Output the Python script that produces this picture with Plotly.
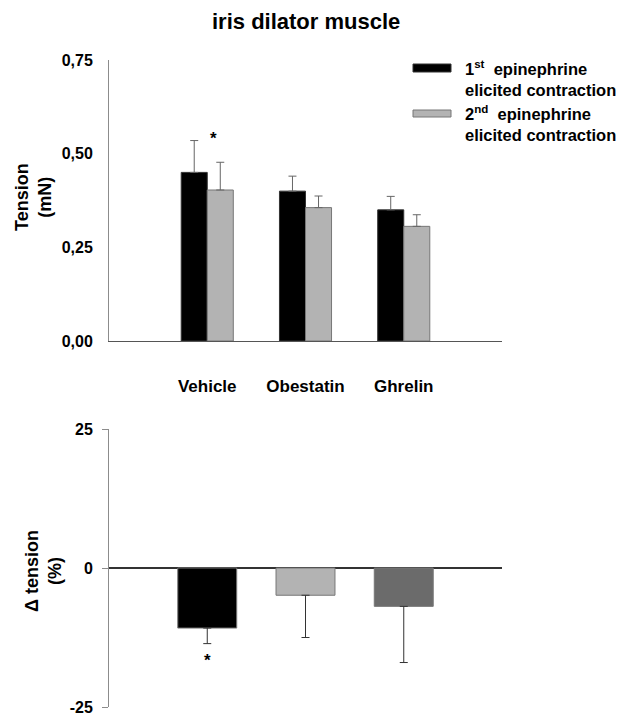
import plotly.graph_objects as go

# ---- data ----
categories = ["Vehicle", "Obestatin", "Ghrelin"]
first_tension = [0.45, 0.40, 0.35]
first_se = [0.085, 0.04, 0.036]
second_tension = [0.403, 0.356, 0.306]
second_se = [0.074, 0.031, 0.031]
delta_tension = [-10.8, -4.9, -6.9]
delta_se = [2.8, 7.6, 10.1]
top_ticks = [0, 0.25, 0.5, 0.75]
top_ticktext = ["0,00", "0,25", "0,50", "0,75"]
bottom_ticks = [-25, 0, 25]
bottom_ticktext = ["-25", "0", "25"]
legend_names = ["1<sup>st</sup>  epinephrine<br>elicited contraction",
                "2<sup>nd</sup>  epinephrine<br>elicited contraction"]

xpos = [1, 2, 3]
FONT = "Liberation Sans, Arial, sans-serif"
AX = "#8c8c8c"

# page offset (body margin) and figure size
OFF = 8
W, H = 627 - OFF, 717 - OFF


def px(x):
    return (x - OFF) / W


def py(y):
    return 1 - (y - OFF) / H


def bold(lst):
    return ["<b>" + s + "</b>" for s in lst]


fig = go.Figure()

fig.add_trace(go.Bar(
    x=xpos, y=first_tension, width=0.265, offset=-0.265,
    marker=dict(color="#000000", line=dict(color="#333333", width=1)),
    error_y=dict(type="data", symmetric=False, array=first_se,
                 arrayminus=[0] * 3, color="#666666", thickness=1, width=4),
    xaxis="x", yaxis="y", showlegend=False, name="1st"))
fig.add_trace(go.Bar(
    x=xpos, y=second_tension, width=0.265, offset=0,
    marker=dict(color="#b3b3b3", line=dict(color="#777777", width=1)),
    error_y=dict(type="data", symmetric=False, array=second_se,
                 arrayminus=[0] * 3, color="#666666", thickness=1, width=4),
    xaxis="x", yaxis="y", showlegend=False, name="2nd"))

fig.add_trace(go.Bar(
    x=xpos, y=delta_tension, width=0.6,
    marker=dict(color=["#000000", "#b3b3b3", "#6b6b6b"],
                line=dict(color="#777777", width=1)),
    error_y=dict(type="data", symmetric=False, array=[0] * 3,
                 arrayminus=delta_se, color="#333333", thickness=1, width=4),
    xaxis="x2", yaxis="y2", showlegend=False, name="delta"))

xdom = [px(109), px(502)]
fig.update_layout(
    width=W, height=H,
    margin=dict(l=0, r=0, t=0, b=0, autoexpand=False),
    paper_bgcolor="white", plot_bgcolor="white",
    font=dict(family=FONT, color="black"),
    barmode="overlay",
    xaxis=dict(domain=xdom, range=[0, 4], tickvals=xpos, ticktext=bold(categories),
               showline=True, linecolor="#555555", linewidth=1, ticks="",
               ticklabelstandoff=30, showgrid=False, zeroline=False,
               tickfont=dict(size=17, family=FONT), anchor="y", automargin=False,
               ticklabeloverflow="allow"),
    yaxis=dict(domain=[py(341), py(60)], range=[0, 0.75],
               tickvals=top_ticks, ticktext=bold(top_ticktext),
               showline=True, linecolor=AX, linewidth=1, ticks="",
               ticklabelstandoff=12, showgrid=False, zeroline=False,
               tickfont=dict(size=16, family=FONT), anchor="x", automargin=False,
               ticklabeloverflow="allow"),
    xaxis2=dict(domain=xdom, range=[0, 4], visible=False, anchor="y2"),
    yaxis2=dict(domain=[py(707), py(429)], range=[-25, 25],
                tickvals=bottom_ticks, ticktext=bold(bottom_ticktext),
                showline=True, linecolor=AX, linewidth=1, ticks="outside",
                ticklen=6, tickcolor=AX, ticklabelstandoff=6,
                showgrid=False, zeroline=True, zerolinecolor="#333333",
                zerolinewidth=1.5, tickfont=dict(size=16, family=FONT),
                anchor="x2", automargin=False, ticklabeloverflow="allow"),
)

ann = []
ann.append(dict(text="<b>iris dilator muscle</b>", x=px(306), y=py(22),
                xref="paper", yref="paper", showarrow=False,
                xanchor="center", yanchor="middle",
                font=dict(size=22, family=FONT)))
ann.append(dict(text="<b>Tension<br>(mN)</b>", x=px(33), y=py(197),
                xref="paper", yref="paper", showarrow=False, textangle=-90,
                xanchor="center", yanchor="middle",
                font=dict(size=18, family=FONT)))
ann.append(dict(text="<b>\u0394 tension<br>(%)</b>", x=px(43), y=py(571),
                xref="paper", yref="paper", showarrow=False, textangle=-90,
                xanchor="center", yanchor="middle",
                font=dict(size=18, family=FONT)))
ann.append(dict(text="<b>*</b>", x=1.06, y=0.54, xref="x", yref="y",
                showarrow=False, xanchor="center", yanchor="middle",
                font=dict(size=17, family=FONT)))
ann.append(dict(text="<b>*</b>", x=1.0, y=-16.7, xref="x2", yref="y2",
                showarrow=False, xanchor="center", yanchor="middle",
                font=dict(size=17, family=FONT)))
# legend
for nm, yc in zip(legend_names, [79, 124]):
    ann.append(dict(text="<b>" + nm + "</b>", x=px(463), y=py(yc),
                    xref="paper", yref="paper", showarrow=False,
                    xanchor="left", yanchor="middle", align="left",
                    font=dict(size=16.5, family=FONT)))
fig.update_layout(annotations=ann)

shapes = [
    dict(type="rect", xref="paper", yref="paper", x0=px(413), x1=px(451),
         y0=py(72), y1=py(64), fillcolor="#000000",
         line=dict(color="#333333", width=1)),
    dict(type="rect", xref="paper", yref="paper", x0=px(413), x1=px(451),
         y0=py(117), y1=py(110), fillcolor="#b3b3b3",
         line=dict(color="#777777", width=1)),
]
fig.update_layout(shapes=shapes)

fig.write_html("out.html")
